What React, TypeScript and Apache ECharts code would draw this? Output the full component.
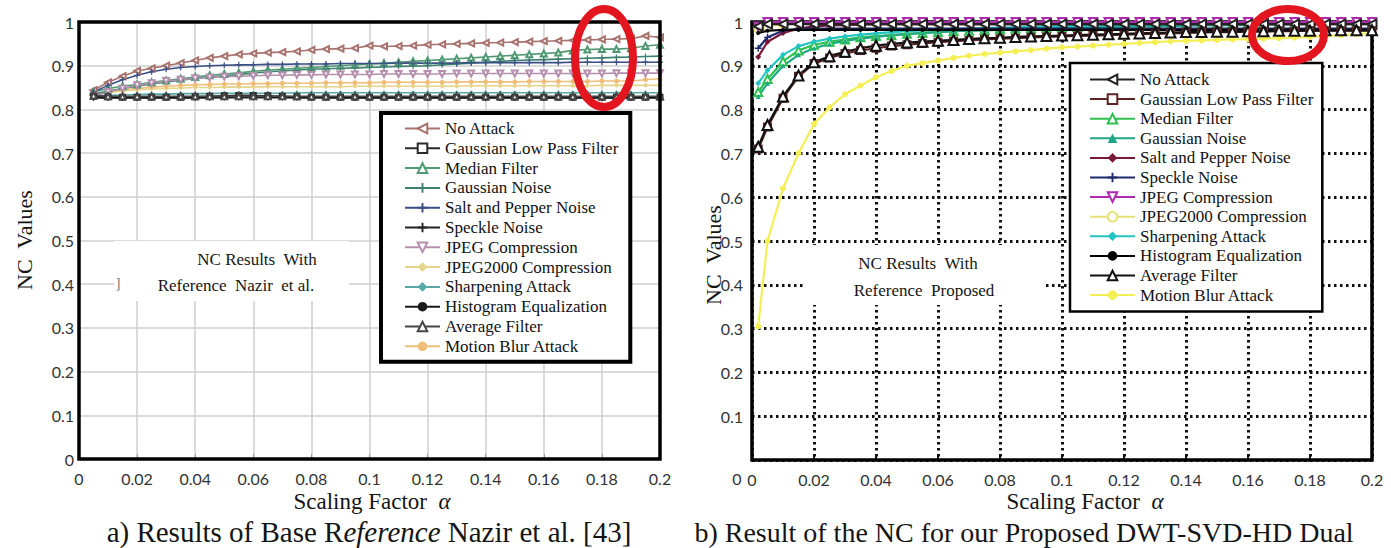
import React, { useEffect, useRef } from 'react';
import * as echarts from 'echarts';

// ---------- shared names ----------
const NAMES = [
  'No Attack', 'Gaussian Low Pass Filter', 'Median Filter', 'Gaussian Noise',
  'Salt and Pepper Noise', 'Speckle Noise', 'JPEG Compression', 'JPEG2000 Compression',
  'Sharpening Attack', 'Histogram Equalization', 'Average Filter', 'Motion Blur Attack',
];

// ---------- (a) Nazir et al. ----------
const L_X = [0.005, 0.01, 0.015, 0.02, 0.025, 0.03, 0.035, 0.04, 0.045, 0.05, 0.055, 0.06, 0.065, 0.07, 0.075, 0.08, 0.085, 0.09, 0.095, 0.1,
  0.105, 0.11, 0.115, 0.12, 0.125, 0.13, 0.135, 0.14, 0.145, 0.15, 0.155, 0.16, 0.165, 0.17, 0.175, 0.18, 0.185, 0.19, 0.195, 0.2];

const L_NO_ATTACK = [0.844, 0.862, 0.876, 0.888, 0.894, 0.9, 0.906, 0.912, 0.918, 0.922, 0.926, 0.928, 0.93, 0.931, 0.933, 0.936, 0.938, 0.939, 0.94, 0.946,
  0.944, 0.945, 0.946, 0.948, 0.949, 0.95, 0.951, 0.952, 0.953, 0.954, 0.955, 0.956, 0.957, 0.958, 0.959, 0.96, 0.961, 0.962, 0.968, 0.965];
const L_GLPF = [0.83, 0.829, 0.828, 0.828, 0.828, 0.828, 0.828, 0.829, 0.83, 0.831, 0.832, 0.832, 0.831, 0.83, 0.829, 0.828, 0.828, 0.828, 0.828, 0.828,
  0.828, 0.828, 0.828, 0.828, 0.828, 0.828, 0.828, 0.828, 0.828, 0.828, 0.828, 0.828, 0.828, 0.828, 0.828, 0.828, 0.828, 0.828, 0.828, 0.828];
const L_MEDIAN = [0.84, 0.848, 0.853, 0.857, 0.862, 0.866, 0.87, 0.874, 0.878, 0.881, 0.884, 0.887, 0.89, 0.892, 0.894, 0.896, 0.898, 0.9, 0.902, 0.904,
  0.906, 0.908, 0.91, 0.912, 0.914, 0.916, 0.918, 0.92, 0.922, 0.924, 0.926, 0.928, 0.93, 0.935, 0.937, 0.938, 0.938, 0.94, 0.945, 0.948];
const L_GAUSS_NOISE = [0.835, 0.842, 0.848, 0.853, 0.858, 0.863, 0.867, 0.871, 0.874, 0.877, 0.88, 0.883, 0.886, 0.888, 0.89, 0.892, 0.893, 0.894, 0.895, 0.896,
  0.897, 0.898, 0.899, 0.9, 0.902, 0.904, 0.906, 0.908, 0.91, 0.912, 0.913, 0.914, 0.915, 0.916, 0.917, 0.918, 0.919, 0.92, 0.921, 0.922];
const L_SALT_PEPPER = [0.84, 0.855, 0.868, 0.878, 0.886, 0.892, 0.896, 0.898, 0.9, 0.901, 0.902, 0.902, 0.903, 0.903, 0.904, 0.904, 0.904, 0.905, 0.905, 0.905,
  0.905, 0.906, 0.906, 0.906, 0.906, 0.906, 0.907, 0.907, 0.907, 0.907, 0.907, 0.907, 0.907, 0.908, 0.908, 0.908, 0.908, 0.908, 0.908, 0.908];
const L_SPECKLE = [0.826, 0.826, 0.826, 0.826, 0.826, 0.826, 0.826, 0.826, 0.826, 0.827, 0.827, 0.827, 0.827, 0.827, 0.827, 0.827, 0.827, 0.826, 0.826, 0.826,
  0.826, 0.826, 0.826, 0.826, 0.826, 0.826, 0.826, 0.826, 0.826, 0.826, 0.826, 0.826, 0.826, 0.826, 0.826, 0.826, 0.826, 0.826, 0.826, 0.826];
const L_JPEG = [0.83, 0.84, 0.848, 0.855, 0.86, 0.865, 0.868, 0.871, 0.873, 0.875, 0.876, 0.877, 0.878, 0.878, 0.879, 0.879, 0.88, 0.88, 0.88, 0.88,
  0.881, 0.881, 0.881, 0.881, 0.881, 0.882, 0.882, 0.882, 0.882, 0.882, 0.882, 0.882, 0.882, 0.882, 0.882, 0.882, 0.883, 0.883, 0.883, 0.883];
const L_JPEG2000 = [0.832, 0.838, 0.842, 0.845, 0.847, 0.848, 0.849, 0.85, 0.85, 0.851, 0.851, 0.851, 0.852, 0.852, 0.852, 0.852, 0.852, 0.852, 0.853, 0.853,
  0.853, 0.853, 0.853, 0.853, 0.853, 0.853, 0.854, 0.854, 0.854, 0.854, 0.854, 0.854, 0.854, 0.854, 0.854, 0.855, 0.855, 0.855, 0.855, 0.855];
const L_SHARPEN = [0.83, 0.832, 0.833, 0.834, 0.835, 0.835, 0.836, 0.836, 0.836, 0.837, 0.837, 0.837, 0.837, 0.837, 0.838, 0.838, 0.838, 0.838, 0.838, 0.838,
  0.838, 0.838, 0.838, 0.838, 0.838, 0.838, 0.838, 0.838, 0.838, 0.838, 0.838, 0.838, 0.838, 0.838, 0.838, 0.838, 0.838, 0.838, 0.838, 0.838];
const L_HIST = [0.828, 0.827, 0.827, 0.827, 0.827, 0.827, 0.827, 0.827, 0.828, 0.828, 0.829, 0.829, 0.828, 0.828, 0.827, 0.827, 0.827, 0.827, 0.827, 0.827,
  0.827, 0.827, 0.827, 0.827, 0.827, 0.827, 0.827, 0.827, 0.827, 0.827, 0.827, 0.827, 0.827, 0.827, 0.827, 0.827, 0.827, 0.827, 0.827, 0.827];
const L_AVERAGE = [0.832, 0.83, 0.83, 0.83, 0.83, 0.83, 0.83, 0.83, 0.83, 0.83, 0.83, 0.83, 0.83, 0.83, 0.83, 0.83, 0.83, 0.83, 0.83, 0.83,
  0.83, 0.83, 0.83, 0.83, 0.83, 0.83, 0.83, 0.83, 0.83, 0.83, 0.83, 0.83, 0.83, 0.83, 0.83, 0.83, 0.83, 0.83, 0.83, 0.83];
const L_MOTION = [0.835, 0.84, 0.845, 0.848, 0.851, 0.853, 0.855, 0.856, 0.857, 0.858, 0.858, 0.859, 0.859, 0.86, 0.86, 0.86, 0.861, 0.861, 0.861, 0.861,
  0.862, 0.862, 0.862, 0.862, 0.862, 0.863, 0.863, 0.863, 0.863, 0.863, 0.864, 0.864, 0.864, 0.864, 0.864, 0.865, 0.865, 0.865, 0.868, 0.87];

// ---------- (b) Proposed ----------
const R_X = [0.002, 0.005, 0.01, 0.015, 0.02, 0.025, 0.03, 0.035, 0.04, 0.045, 0.05, 0.055, 0.06, 0.065, 0.07, 0.075, 0.08, 0.085, 0.09, 0.095, 0.1,
  0.105, 0.11, 0.115, 0.12, 0.125, 0.13, 0.135, 0.14, 0.145, 0.15, 0.155, 0.16, 0.165, 0.17, 0.175, 0.18, 0.185, 0.19, 0.195, 0.2];

const R_NO_ATTACK = [0.99, 0.995, 0.995, 0.995, 0.995, 0.995, 0.995, 0.995, 0.995, 0.995, 0.995, 0.995, 0.995, 0.995, 0.995, 0.995, 0.995, 0.995, 0.995, 0.995, 0.995,
  0.995, 0.995, 0.995, 0.995, 0.995, 0.995, 0.995, 0.995, 0.995, 0.995, 0.995, 0.995, 0.995, 0.995, 0.995, 0.995, 0.995, 0.995, 0.995, 0.995];
const R_GLPF = [0.71, 0.76, 0.826, 0.876, 0.905, 0.918, 0.928, 0.935, 0.94, 0.945, 0.948, 0.951, 0.954, 0.956, 0.958, 0.96, 0.962, 0.963, 0.965, 0.966, 0.967,
  0.968, 0.969, 0.97, 0.971, 0.972, 0.973, 0.974, 0.975, 0.976, 0.977, 0.977, 0.978, 0.978, 0.979, 0.979, 0.98, 0.98, 0.98, 0.98, 0.98];
const R_MEDIAN = [0.84, 0.87, 0.91, 0.935, 0.948, 0.955, 0.96, 0.965, 0.968, 0.97, 0.973, 0.975, 0.977, 0.979, 0.98, 0.982, 0.984, 0.985, 0.986, 0.987, 0.988,
  0.989, 0.99, 0.99, 0.991, 0.992, 0.993, 0.994, 0.995, 0.995, 0.996, 0.996, 0.997, 0.997, 0.998, 0.998, 0.998, 0.999, 0.999, 0.999, 0.999];
const R_GAUSS_NOISE = [0.83, 0.86, 0.9, 0.925, 0.94, 0.95, 0.957, 0.962, 0.966, 0.97, 0.972, 0.975, 0.977, 0.979, 0.98, 0.981, 0.982, 0.983, 0.984, 0.985, 0.986,
  0.987, 0.988, 0.988, 0.989, 0.99, 0.99, 0.991, 0.991, 0.992, 0.992, 0.993, 0.993, 0.994, 0.994, 0.995, 0.995, 0.996, 0.996, 0.997, 0.997];
const R_SALT_PEPPER = [0.92, 0.955, 0.975, 0.985, 0.99, 0.992, 0.993, 0.994, 0.995, 0.995, 0.995, 0.995, 0.995, 0.995, 0.995, 0.995, 0.995, 0.995, 0.995, 0.995, 0.995,
  0.995, 0.995, 0.995, 0.995, 0.995, 0.995, 0.995, 0.995, 0.995, 0.995, 0.995, 0.995, 0.995, 0.995, 0.995, 0.995, 0.995, 0.995, 0.995, 0.995];
const R_SPECKLE = [0.94, 0.965, 0.98, 0.985, 0.985, 0.985, 0.985, 0.985, 0.985, 0.985, 0.985, 0.985, 0.985, 0.985, 0.985, 0.985, 0.985, 0.985, 0.985, 0.985, 0.985,
  0.985, 0.985, 0.985, 0.985, 0.985, 0.985, 0.985, 0.985, 0.985, 0.985, 0.985, 0.985, 0.985, 0.985, 0.985, 0.985, 0.985, 0.985, 0.985, 0.985];
const R_JPEG = [0.99, 1, 1, 1, 1, 1, 1, 1, 1, 1, 1, 1, 1, 1, 1, 1, 1, 1, 1, 1, 1,
  1, 1, 1, 1, 1, 1, 1, 1, 1, 1, 1, 1, 1, 1, 1, 1, 1, 1, 1, 1];
const R_JPEG2000 = [0.985, 0.99, 0.995, 0.997, 0.997, 0.997, 0.997, 0.997, 0.997, 0.997, 0.997, 0.997, 0.997, 0.997, 0.997, 0.997, 0.997, 0.997, 0.997, 0.997, 0.997,
  0.997, 0.997, 0.997, 0.997, 0.997, 0.997, 0.997, 0.997, 0.997, 0.997, 0.997, 0.997, 0.997, 0.997, 0.997, 0.997, 0.997, 0.997, 0.997, 0.997];
const R_SHARPEN = [0.86, 0.89, 0.925, 0.945, 0.955, 0.962, 0.967, 0.971, 0.974, 0.977, 0.979, 0.981, 0.983, 0.984, 0.985, 0.986, 0.987, 0.988, 0.989, 0.99, 0.99,
  0.991, 0.991, 0.992, 0.992, 0.993, 0.993, 0.994, 0.994, 0.995, 0.995, 0.996, 0.996, 0.996, 0.997, 0.997, 0.997, 0.998, 0.998, 0.998, 0.998];
const R_HIST = [0.975, 0.98, 0.982, 0.982, 0.982, 0.982, 0.982, 0.982, 0.982, 0.982, 0.982, 0.982, 0.982, 0.982, 0.982, 0.982, 0.982, 0.982, 0.982, 0.982, 0.982,
  0.982, 0.982, 0.982, 0.982, 0.982, 0.982, 0.982, 0.982, 0.982, 0.982, 0.982, 0.982, 0.982, 0.982, 0.982, 0.982, 0.982, 0.982, 0.982, 0.982];
const R_AVERAGE = [0.715, 0.765, 0.83, 0.878, 0.908, 0.922, 0.932, 0.94, 0.946, 0.95, 0.953, 0.955, 0.957, 0.959, 0.961, 0.963, 0.964, 0.966, 0.967, 0.968, 0.969,
  0.97, 0.971, 0.972, 0.973, 0.974, 0.975, 0.976, 0.977, 0.977, 0.978, 0.978, 0.979, 0.979, 0.98, 0.98, 0.98, 0.981, 0.981, 0.981, 0.981];
const R_MOTION = [0.305, 0.5, 0.62, 0.7, 0.767, 0.805, 0.835, 0.855, 0.874, 0.888, 0.9, 0.906, 0.912, 0.918, 0.923, 0.927, 0.93, 0.933, 0.936, 0.939, 0.942,
  0.944, 0.946, 0.948, 0.95, 0.952, 0.954, 0.956, 0.957, 0.958, 0.959, 0.96, 0.961, 0.962, 0.963, 0.964, 0.966, 0.968, 0.97, 0.972, 0.975];

const L_DATA = [L_NO_ATTACK, L_GLPF, L_MEDIAN, L_GAUSS_NOISE, L_SALT_PEPPER, L_SPECKLE, L_JPEG, L_JPEG2000, L_SHARPEN, L_HIST, L_AVERAGE, L_MOTION];
const R_DATA = [R_NO_ATTACK, R_GLPF, R_MEDIAN, R_GAUSS_NOISE, R_SALT_PEPPER, R_SPECKLE, R_JPEG, R_JPEG2000, R_SHARPEN, R_HIST, R_AVERAGE, R_MOTION];

// ---------- styles ----------
const PLUS = 'path://M4,0H6V4H10V6H6V10H4V6H0V4H4Z';
const SERIF = '"Liberation Serif", "Times New Roman", serif';
const SANS = 'Lato, "Open Sans", sans-serif';

const L_STYLE = [
  { c: '#a8726e', s: 'emptyTriangle', rot: 90, size: 6, z: 4 },
  { c: '#2b2b2b', s: 'emptyRect', size: 5, z: 6 },
  { c: '#4f9a72', s: 'emptyTriangle', size: 6, z: 4 },
  { c: '#3e8070', s: PLUS, size: 6, z: 4 },
  { c: '#3b4f86', s: PLUS, size: 6, z: 4 },
  { c: '#252525', s: PLUS, size: 6, z: 6 },
  { c: '#b68fae', s: 'emptyTriangle', rot: 180, size: 6, z: 4 },
  { c: '#e6d48a', s: 'diamond', size: 5, z: 3 },
  { c: '#58a8a8', s: 'diamond', size: 5, z: 4 },
  { c: '#1a1a1a', s: 'circle', size: 4, z: 6 },
  { c: '#474747', s: 'emptyTriangle', size: 6, z: 6 },
  { c: '#efbf7a', s: 'circle', size: 5, z: 3 },
];
const R_STYLE = [
  { c: '#222222', s: 'emptyTriangle', rot: 90, size: 9, z: 6 },
  { c: '#5e2424', s: 'emptyRect', size: 7, z: 6 },
  { c: '#2fbf4f', s: 'emptyTriangle', size: 8, z: 4 },
  { c: '#1fa888', s: 'triangle', size: 5, z: 4 },
  { c: '#7a1838', s: 'diamond', size: 6, z: 5 },
  { c: '#1d2a6e', s: PLUS, size: 7, z: 5 },
  { c: '#b02ab0', s: 'emptyTriangle', rot: 180, size: 8, z: 5 },
  { c: '#e6e27a', s: 'emptyCircle', size: 8, z: 3 },
  { c: '#22c4c4', s: 'diamond', size: 6, z: 4 },
  { c: '#000000', s: 'circle', size: 4, z: 6 },
  { c: '#111111', s: 'emptyTriangle', size: 10, z: 6 },
  { c: '#f4ef55', s: 'circle', size: 6, z: 3 },
];

const R_PREFIX = 'b:';

export default function App() {
  const ref = useRef<HTMLDivElement>(null);

  useEffect(() => {
    const chart = echarts.init(ref.current!, null, { renderer: 'svg' });

    const leftSeries = NAMES.map((name, i) => ({
      type: 'line', name, xAxisIndex: 0, yAxisIndex: 0,
      data: L_X.map((x, k) => [x, L_DATA[i][k]]),
      symbol: L_STYLE[i].s, symbolSize: L_STYLE[i].size, symbolRotate: L_STYLE[i].rot || 0,
      showAllSymbol: true,
      lineStyle: { color: L_STYLE[i].c, width: 1.6 },
      itemStyle: { color: L_STYLE[i].c, borderWidth: 1.2 },
      z: L_STYLE[i].z, silent: true,
    }));
    const rightSeries = NAMES.map((name, i) => ({
      type: 'line', name: R_PREFIX + name, xAxisIndex: 1, yAxisIndex: 1,
      data: R_X.map((x, k) => [x, R_DATA[i][k]]),
      symbol: R_STYLE[i].s, symbolSize: R_STYLE[i].size, symbolRotate: R_STYLE[i].rot || 0,
      showAllSymbol: true, clip: false,
      lineStyle: { color: R_STYLE[i].c, width: 2.2 },
      itemStyle: { color: R_STYLE[i].c, borderWidth: 2 },
      z: R_STYLE[i].z, silent: true,
    }));

    const xAxisBase = (gridIndex: number) => ({
      type: 'value', gridIndex, min: 0, max: 0.2, interval: 0.02,
      axisLine: { show: false },
      axisTick: { show: true, inside: true, length: 5, lineStyle: { color: gridIndex === 0 ? '#999' : '#111', width: gridIndex === 0 ? 1 : 2 } },
      axisLabel: { margin: 11, fontFamily: SANS, fontSize: 16, color: '#333' },
      splitLine: gridIndex === 0
        ? { show: true, lineStyle: { color: '#cfcfcf', width: 1.5 } }
        : { show: true, lineStyle: { color: '#111', width: 3, type: [2.5, 3.5] } },
    });
    const yAxisBase = (gridIndex: number) => ({
      type: 'value', gridIndex, min: 0, max: 1, interval: 0.1,
      axisLine: { show: false },
      axisTick: { show: false },
      axisLabel: {
        margin: gridIndex === 0 ? 5 : 9, fontFamily: SANS, fontSize: 16, color: '#333',
        formatter: (v: number) => (gridIndex === 1 && v === 0 ? '' : String(Math.round(v * 10) / 10)),
      },
      splitLine: gridIndex === 0
        ? { show: true, lineStyle: { color: '#cfcfcf', width: 1.5 } }
        : { show: true, lineStyle: { color: '#111', width: 3, type: [2.5, 3.5] } },
    });

    const txt = (x: number, y: number, text: string, size: number, extra: any = {}) => ({
      type: 'text', x, y, z: 30,
      style: {
        text, fontFamily: SERIF, fontSize: size, fill: '#151515',
        align: 'center', verticalAlign: 'middle', textAlign: 'center', textVerticalAlign: 'middle',
        ...extra,
      },
    });

    const option: any = {
      animation: false,
      backgroundColor: '#ffffff',
      grid: [
        { left: 79, top: 22, width: 581, height: 437, containLabel: false },
        { left: 752, top: 22, width: 620, height: 438, containLabel: false },
      ],
      xAxis: [xAxisBase(0), xAxisBase(1)],
      yAxis: [yAxisBase(0), yAxisBase(1)],
      legend: [
        {
          orient: 'vertical', left: 381, top: 113, data: NAMES, selectedMode: false,
          itemWidth: 35, itemHeight: 12, itemGap: 2.8, padding: [7, 12, 7, 23],
          backgroundColor: '#fff', borderColor: '#000', borderWidth: 4,
          textStyle: { fontFamily: SERIF, fontSize: 17, color: '#111', lineHeight: 16 },
          z: 20,
        },
        {
          orient: 'vertical', left: 1070, top: 63, data: NAMES.map((n) => R_PREFIX + n), selectedMode: false,
          formatter: (n: string) => n.slice(R_PREFIX.length),
          itemWidth: 45, itemHeight: 12, itemGap: 2.6, padding: [8, 9, 8, 19],
          backgroundColor: '#fff', borderColor: '#000', borderWidth: 2.5,
          textStyle: { fontFamily: SERIF, fontSize: 17, color: '#111', lineHeight: 16 },
          z: 20,
        },
      ],
      series: [...leftSeries, ...rightSeries],
      graphic: [
        // white boxes behind annotations
        { type: 'rect', z: 1, shape: { x: 114, y: 241, width: 235, height: 60 }, style: { fill: '#fff' } },
        { type: 'rect', z: 1, shape: { x: 806, y: 245, width: 238, height: 60 }, style: { fill: '#fff' } },
        // frames
        { type: 'rect', z: 8, shape: { x: 79, y: 22, width: 581, height: 437 }, style: { fill: 'none', stroke: '#000', lineWidth: 3.5 } },
        { type: 'rect', z: 2, shape: { x: 752, y: 22, width: 620, height: 438 }, style: { fill: 'none', stroke: '#000', lineWidth: 3.5 } },
        // annotations
        txt(257, 259, 'NC Results  With', 17),
        txt(236, 285, 'Reference  Nazir  et al.', 17),
        txt(118, 283, ']', 15, { fill: '#777' }),
        txt(918, 263, 'NC Results  With', 17),
        txt(924, 290, 'Reference  Proposed', 17),
        // axis names
        { ...txt(24, 240, 'NC  Values', 22), rotation: Math.PI / 2 },
        { ...txt(713, 255, 'NC  Values', 22), rotation: Math.PI / 2 },
        txt(372, 501, 'Scaling Factor  {i|α}', 23, { rich: { i: { fontStyle: 'italic', fontFamily: SERIF, fontSize: 23 } } }),
        txt(1085, 501, 'Scaling Factor  {i|α}', 23, { rich: { i: { fontStyle: 'italic', fontFamily: SERIF, fontSize: 23 } } }),
        // extra "0" of the right chart
        { type: 'text', x: 737, y: 478, z: 30, style: { text: '0', fontFamily: SANS, fontSize: 16, fill: '#333', align: 'center', verticalAlign: 'middle', textAlign: 'center', textVerticalAlign: 'middle' } },
        // captions
        txt(369, 532, 'a) Results of Base R{i|eference} Nazir et al. [43]', 29, { rich: { i: { fontStyle: 'italic', fontFamily: SERIF, fontSize: 29 } } }),
        txt(1024, 532, 'b) Result of the NC for our Proposed DWT-SVD-HD Dual', 28),
        // red ellipses
        { type: 'ellipse', z: 40, shape: { cx: 604, cy: 58, rx: 29, ry: 49 }, style: { fill: 'none', stroke: '#e3161f', lineWidth: 8 } },
        { type: 'ellipse', z: 40, shape: { cx: 1288, cy: 35, rx: 36, ry: 26 }, style: { fill: 'none', stroke: '#e3161f', lineWidth: 8 } },
      ],
    };

    chart.setOption(option);
    return () => chart.dispose();
  }, []);

  return (
    <div
      ref={ref}
      style={{ position: 'fixed', left: 0, top: 0, width: 1391, height: 548, background: '#fff' }}
    />
  );
}
